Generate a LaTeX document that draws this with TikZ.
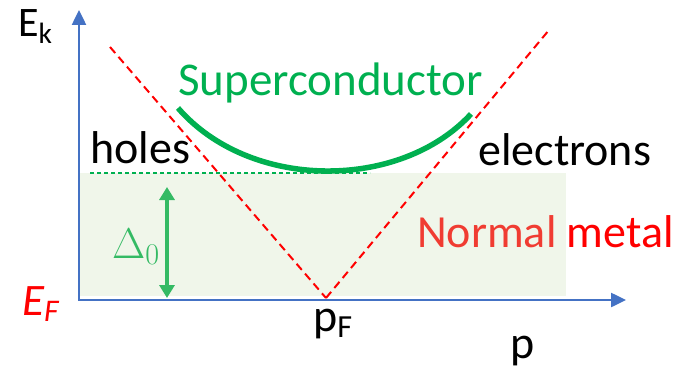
\RequirePackage{fix-cm}
\documentclass[tikz,border=0pt]{standalone}
\usepackage{fontspec}
\setmainfont{Carlito}
\usetikzlibrary{arrows.meta}
\definecolor{axisblue}{RGB}{68,114,196}
\definecolor{scgreen}{RGB}{0,176,80}
\definecolor{gapgreen}{RGB}{52,186,100}
\definecolor{boxgreen}{RGB}{240,246,234}
\definecolor{nmred}{RGB}{240,60,50}

\begin{document}
\begin{tikzpicture}[x=1pt, y=-1pt, line cap=butt, line join=miter,
  lbl/.style={anchor=base west, inner sep=0pt, font=\fontsize{46}{50}\selectfont},
  disp/.style={red, line width=2pt, dash pattern=on 8pt off 5pt}]

\useasboundingbox (0,0) rectangle (682,369);

%==================================================
% Gap region (normal metal)
%==================================================
\fill[boxgreen] (80,173) rectangle (566,296);
\draw[scgreen, line width=1.2pt, dash pattern=on 4pt off 3pt] (90,173) -- (370,173);

%==================================================
% Dispersion of the normal metal
%==================================================
\coordinate (Ltop) at (110,47);
\coordinate (V)    at (326,298);
\coordinate (Rtop) at (549,30);

\draw[disp] (Ltop) -- (V);
\draw[disp] (V) -- (Rtop);

%==================================================
% Superconducting branch
%==================================================
\draw[scgreen, line width=5.5pt]
  (178,108) .. controls (250,191) and (400,191) .. (471,114);

% Gap arrow
\coordinate (gtop) at (167,187);
\coordinate (gbot) at (167,298);
\draw[gapgreen, line width=4pt,
  {Triangle[length=13pt,width=15pt]}-{Triangle[length=13pt,width=15pt]}]
  (gtop) -- (gbot);

%==================================================
% Axes
%==================================================
\coordinate (O)  at (79,300);
\coordinate (Ey) at (79,10);
\coordinate (px) at (626,300);
\draw[axisblue, line width=2.5pt,
  {Triangle[length=15pt,width=14pt]}-{Triangle[length=15pt,width=14pt]}]
  (Ey) -- (O) -- (px);

%==================================================
% Labels
%==================================================
\node[lbl, scgreen, font=\fontsize{47}{50}\selectfont] (sc) at (178,95) {Superconductor};
\node[lbl] (holes) at (90,163) {holes};
\node[lbl] (elec) at (478,165) {electrons};
\node[lbl] (nm) at (417,247) {\textcolor{nmred}{Normal} \textcolor{red}{metal}};
\node[lbl, font=\fontsize{42}{46}\selectfont] (Ek) at (18,37) {E\textsubscript{k}};
\node[lbl, red, font=\fontsize{45}{50}\selectfont\itshape] (EF) at (22,315) {E\textsubscript{F}};
\node[lbl] (pF) at (313,331) {p\textsubscript{F}};
\node[lbl] (p) at (510,358) {p};
\node[lbl, gapgreen, font=\fontsize{43}{48}\selectfont] (gap) at (112,258) {$\Delta_0$};

\end{tikzpicture}
\end{document}
